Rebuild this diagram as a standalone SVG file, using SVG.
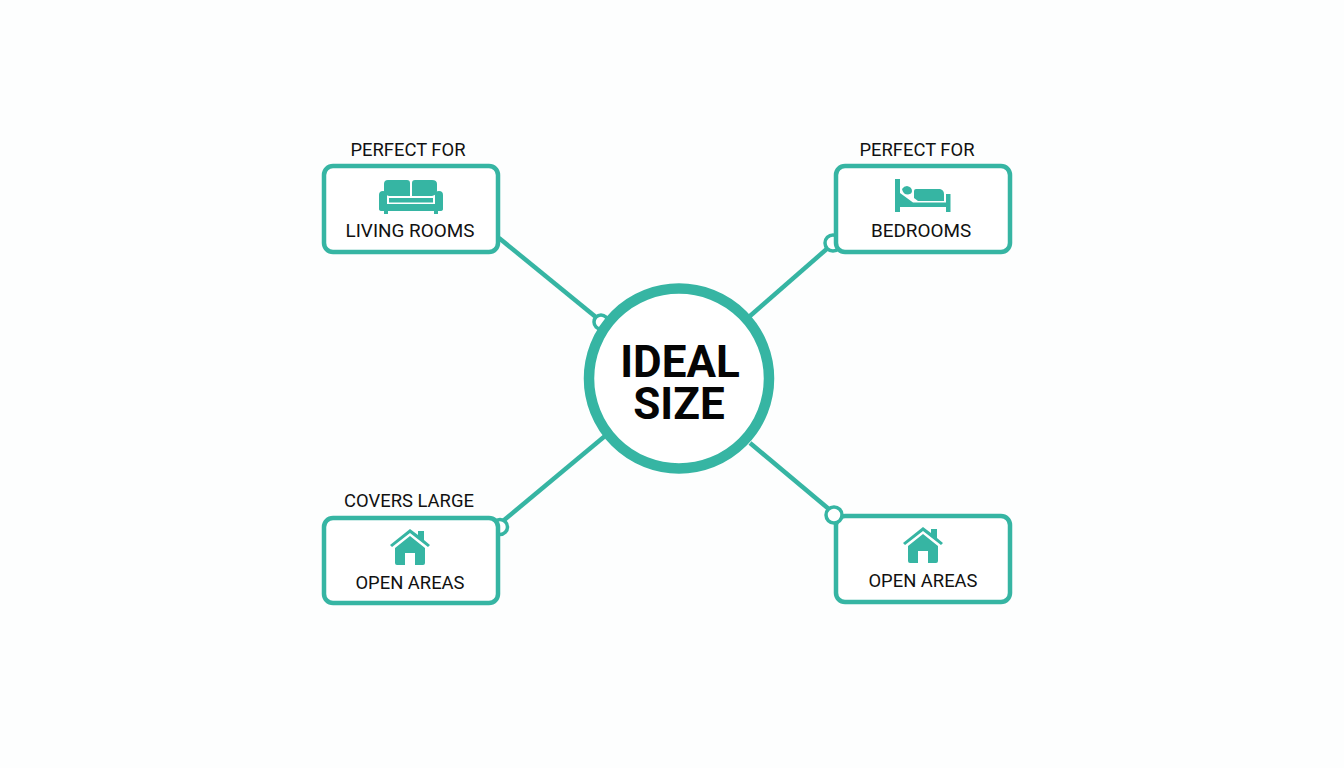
<svg xmlns="http://www.w3.org/2000/svg" width="1344" height="768" viewBox="0 0 1344 768">
<style>
.box{fill:#fff;stroke:#36b5a3;stroke-width:4.500}
.line{stroke:#36b5a3;stroke-width:4.500;fill:none}
.ring{fill:#fff;stroke:#36b5a3;stroke-width:3.500}
.ic{fill:#36b5a3}
.lbl{font-family:Roboto,"Liberation Sans",sans-serif;font-size:18.400px;fill:#111;text-anchor:middle}
.wide{font-size:18.900px}
.big{font-family:Roboto,"Liberation Sans",sans-serif;font-size:44px;font-weight:700;fill:#050505;text-anchor:middle}
</style>
<rect width="1344" height="768" fill="#fdfefe"/>
<g id="connectors">
<line class="line" x1="499" y1="238" x2="597" y2="318"/>
<line class="line" x1="750" y1="316" x2="829" y2="247"/>
<line class="line" x1="503" y1="521" x2="605" y2="436"/>
<line class="line" x1="750" y1="443" x2="830" y2="510"/>
<circle class="ring" cx="601" cy="322" r="7"/>
<circle class="ring" cx="833" cy="243" r="8"/>
<circle class="ring" cx="500" cy="527" r="7.500"/>
</g>
<g id="node-center">
<circle cx="679" cy="378.500" r="90" fill="#fff" stroke="#36b5a3" stroke-width="10.500"/>
<text class="big"><tspan x="680" y="377">IDEAL</tspan><tspan x="679" y="419">SIZE</tspan></text>
</g>
<g id="node-living">
<text class="lbl" x="408" y="156">PERFECT FOR</text>
<rect class="box" x="324" y="166" width="174" height="86" rx="9"/>
<path class="ic" d="M384 184q0-4 4-4h19q3 0 3 3v13h-21q-5-1-5-5zM412 183q0-3 3-3h17q5 0 5 4v7q0 4-5 5h-20z"/>
<path class="ic" d="M379 195q0-4 4-4t4 4v9h48v-9q0-4 4-4t4 4v14q0 2-3 2h-2v3h-4v-3h-46v3h-4v-3h-2q-3 0-3-2zM389 198h44v4.500h-44z"/>
<text class="lbl wide" x="410" y="237">LIVING ROOMS</text>
</g>
<g id="node-bedrooms">
<text class="lbl" x="917" y="156">PERFECT FOR</text>
<rect class="box" x="836" y="166" width="174" height="86" rx="9"/>
<path class="ic" d="M895 179h5v14l13 9.500h33v-8.500h4.500v18h-4.500v-5h-46v5h-5z"/>
<path class="ic" d="M902 189q2-3 5-3 5 1 5 5 0 3-4 3.500-5 0-6-5.500zM914 191q0-2 2-2h24q4 1 4 5v7h-26l-4-3z"/>
<text class="lbl wide" x="921" y="237">BEDROOMS</text>
</g>
<g id="node-covers">
<text class="lbl" x="409" y="507">COVERS LARGE</text>
<rect class="box" x="324" y="518" width="174" height="85" rx="9"/>
<path class="ic" d="M410 529l8 6v-4h6v9l6 5-2 2-18-14-18 14-2-2zM410 536l15 12v15q0 2-2 2h-8v-12h-10v12h-8q-2 0-2-2v-15z"/>
<text class="lbl" x="410" y="589">OPEN AREAS</text>
</g>
<g id="node-open">
<rect class="box" x="836" y="516" width="174" height="86" rx="9"/>
<circle class="ring" cx="834" cy="515" r="8"/>
<path class="ic" d="M923 527l8 6v-4h6v9l6 5-2 2-18-14-18 14-2-2zM923 534l15 12v15q0 2-2 2h-8v-12h-10v12h-8q-2 0-2-2v-15z"/>
<text class="lbl" x="923" y="587">OPEN AREAS</text>
</g>
</svg>
